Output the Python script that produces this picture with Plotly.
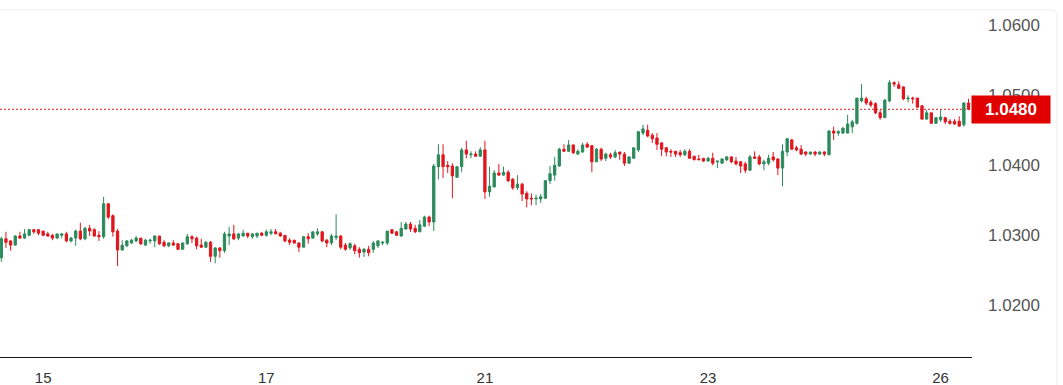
import plotly.graph_objects as go

# ---- data (hourly candles) ----
opens = [
    1.0268,1.0295,1.0292,1.0286,1.0299,1.0296,1.0300,1.0308,1.0308,1.0306,
    1.0302,1.0300,1.0296,1.0300,1.0302,1.0292,1.0296,1.0306,1.0295,1.0310,
    1.0308,1.0300,1.0298,1.0345,1.0328,1.0306,1.0279,1.0285,1.0289,1.0292,
    1.0296,1.0286,1.0292,1.0292,1.0299,1.0290,1.0285,1.0289,1.0288,1.0280,
    1.0288,1.0298,1.0296,1.0286,1.0283,1.0290,1.0270,1.0282,1.0278,1.0299,
    1.0302,1.0296,1.0299,1.0303,1.0298,1.0299,1.0303,1.0300,1.0303,1.0305,
    1.0303,1.0300,1.0293,1.0293,1.0289,1.0283,1.0298,1.0296,1.0302,1.0305,
    1.0293,1.0289,1.0297,1.0299,1.0286,1.0282,1.0285,1.0280,1.0276,1.0280,
    1.0280,1.0285,1.0289,1.0289,1.0308,1.0305,1.0299,1.0309,1.0316,1.0310,
    1.0305,1.0313,1.0326,1.0319,1.0398,1.0415,1.0400,1.0399,1.0383,1.0398,
    1.0422,1.0415,1.0416,1.0413,1.0422,1.0362,1.0369,1.0389,1.0386,1.0390,
    1.0380,1.0368,1.0373,1.0360,1.0353,1.0352,1.0352,1.0353,1.0378,1.0386,
    1.0399,1.0423,1.0420,1.0429,1.0416,1.0419,1.0430,1.0428,1.0405,1.0423,
    1.0410,1.0415,1.0412,1.0419,1.0416,1.0403,1.0410,1.0422,1.0446,1.0450,
    1.0443,1.0439,1.0432,1.0425,1.0420,1.0420,1.0418,1.0415,1.0420,1.0413,
    1.0409,1.0410,1.0406,1.0410,1.0405,1.0403,1.0408,1.0412,1.0406,1.0405,
    1.0402,1.0393,1.0412,1.0412,1.0402,1.0403,1.0412,1.0409,1.0396,1.0419,
    1.0436,1.0425,1.0423,1.0419,1.0416,1.0419,1.0416,1.0419,1.0415,1.0449,
    1.0446,1.0446,1.0446,1.0455,1.0460,1.0492,1.0495,1.0490,1.0488,1.0475,
    1.0468,1.0492,1.0518,1.0515,1.0512,1.0495,1.0496,1.0496,1.0485,1.0466,
    1.0475,1.0460,1.0465,1.0468,1.0463,1.0463,1.0463,1.0458,1.0489,
]
highs = [
    1.0298,1.0305,1.0293,1.0300,1.0305,1.0309,1.0309,1.0309,1.0309,1.0306,
    1.0305,1.0302,1.0302,1.0303,1.0305,1.0298,1.0308,1.0318,1.0312,1.0315,
    1.0310,1.0306,1.0355,1.0346,1.0330,1.0309,1.0293,1.0293,1.0295,1.0299,
    1.0296,1.0295,1.0295,1.0300,1.0299,1.0293,1.0290,1.0293,1.0289,1.0290,
    1.0302,1.0300,1.0298,1.0295,1.0292,1.0292,1.0283,1.0283,1.0305,1.0312,
    1.0315,1.0303,1.0308,1.0303,1.0303,1.0303,1.0305,1.0308,1.0309,1.0309,
    1.0305,1.0300,1.0296,1.0293,1.0290,1.0299,1.0303,1.0305,1.0310,1.0306,
    1.0295,1.0302,1.0330,1.0300,1.0289,1.0290,1.0288,1.0283,1.0282,1.0285,
    1.0292,1.0293,1.0292,1.0306,1.0309,1.0306,1.0319,1.0319,1.0319,1.0315,
    1.0322,1.0328,1.0328,1.0402,1.0430,1.0430,1.0406,1.0403,1.0398,1.0425,
    1.0435,1.0420,1.0420,1.0426,1.0435,1.0398,1.0393,1.0402,1.0398,1.0393,
    1.0382,1.0386,1.0375,1.0363,1.0360,1.0358,1.0359,1.0379,1.0399,1.0412,
    1.0425,1.0430,1.0436,1.0430,1.0423,1.0432,1.0433,1.0429,1.0425,1.0425,
    1.0418,1.0418,1.0422,1.0419,1.0419,1.0413,1.0425,1.0448,1.0458,1.0458,
    1.0446,1.0446,1.0433,1.0426,1.0423,1.0420,1.0422,1.0423,1.0423,1.0413,
    1.0415,1.0410,1.0412,1.0418,1.0406,1.0410,1.0413,1.0413,1.0412,1.0406,
    1.0405,1.0415,1.0420,1.0415,1.0408,1.0415,1.0419,1.0410,1.0430,1.0439,
    1.0438,1.0428,1.0429,1.0420,1.0419,1.0420,1.0420,1.0420,1.0450,1.0455,
    1.0450,1.0455,1.0472,1.0465,1.0496,1.0516,1.0498,1.0493,1.0490,1.0479,
    1.0495,1.0522,1.0520,1.0520,1.0513,1.0500,1.0498,1.0496,1.0486,1.0479,
    1.0475,1.0468,1.0479,1.0469,1.0466,1.0466,1.0470,1.0490,1.0495,
]
lows = [
    1.0262,1.0282,1.0278,1.0285,1.0295,1.0295,1.0299,1.0302,1.0300,1.0299,
    1.0298,1.0293,1.0295,1.0296,1.0290,1.0290,1.0285,1.0293,1.0293,1.0299,
    1.0298,1.0292,1.0295,1.0323,1.0298,1.0256,1.0278,1.0283,1.0288,1.0290,
    1.0286,1.0285,1.0288,1.0283,1.0286,1.0283,1.0283,1.0285,1.0279,1.0280,
    1.0286,1.0289,1.0280,1.0282,1.0282,1.0262,1.0260,1.0268,1.0275,1.0286,
    1.0293,1.0293,1.0298,1.0296,1.0295,1.0296,1.0299,1.0298,1.0300,1.0302,
    1.0298,1.0290,1.0286,1.0288,1.0276,1.0283,1.0288,1.0295,1.0299,1.0290,
    1.0283,1.0286,1.0293,1.0280,1.0278,1.0279,1.0273,1.0268,1.0269,1.0270,
    1.0275,1.0282,1.0286,1.0286,1.0302,1.0299,1.0298,1.0308,1.0305,1.0303,
    1.0305,1.0312,1.0313,1.0306,1.0380,1.0382,1.0389,1.0353,1.0382,1.0390,
    1.0410,1.0410,1.0412,1.0412,1.0352,1.0355,1.0369,1.0385,1.0385,1.0376,
    1.0365,1.0365,1.0349,1.0340,1.0343,1.0343,1.0346,1.0352,1.0373,1.0378,
    1.0398,1.0420,1.0419,1.0416,1.0415,1.0418,1.0425,1.0390,1.0405,1.0406,
    1.0406,1.0409,1.0410,1.0408,1.0399,1.0402,1.0410,1.0419,1.0443,1.0440,
    1.0432,1.0422,1.0413,1.0413,1.0412,1.0412,1.0412,1.0413,1.0410,1.0407,
    1.0408,1.0405,1.0406,1.0400,1.0396,1.0402,1.0406,1.0403,1.0400,1.0389,
    1.0389,1.0392,1.0409,1.0400,1.0393,1.0400,1.0405,1.0386,1.0370,1.0413,
    1.0422,1.0420,1.0415,1.0413,1.0415,1.0413,1.0415,1.0413,1.0415,1.0436,
    1.0442,1.0445,1.0446,1.0446,1.0458,1.0490,1.0486,1.0483,1.0473,1.0465,
    1.0468,1.0490,1.0512,1.0509,1.0493,1.0490,1.0488,1.0483,1.0465,1.0465,
    1.0460,1.0459,1.0462,1.0459,1.0458,1.0458,1.0455,1.0455,1.0479,
]
closes = [
    1.0295,1.0290,1.0286,1.0299,1.0296,1.0302,1.0308,1.0305,1.0303,1.0300,
    1.0299,1.0296,1.0302,1.0302,1.0292,1.0296,1.0306,1.0295,1.0310,1.0306,
    1.0299,1.0298,1.0345,1.0326,1.0305,1.0279,1.0286,1.0292,1.0293,1.0296,
    1.0288,1.0293,1.0293,1.0299,1.0288,1.0285,1.0289,1.0286,1.0280,1.0289,
    1.0298,1.0295,1.0285,1.0283,1.0290,1.0270,1.0282,1.0278,1.0302,1.0302,
    1.0295,1.0302,1.0303,1.0299,1.0302,1.0303,1.0300,1.0305,1.0305,1.0302,
    1.0299,1.0292,1.0290,1.0289,1.0283,1.0298,1.0295,1.0305,1.0305,1.0292,
    1.0289,1.0299,1.0299,1.0283,1.0280,1.0288,1.0278,1.0275,1.0280,1.0275,
    1.0289,1.0292,1.0290,1.0306,1.0303,1.0300,1.0310,1.0316,1.0309,1.0305,
    1.0315,1.0326,1.0319,1.0399,1.0415,1.0398,1.0398,1.0385,1.0398,1.0422,
    1.0416,1.0416,1.0413,1.0422,1.0362,1.0370,1.0389,1.0386,1.0390,1.0378,
    1.0368,1.0373,1.0359,1.0352,1.0352,1.0353,1.0355,1.0378,1.0388,1.0400,
    1.0423,1.0420,1.0429,1.0418,1.0420,1.0429,1.0426,1.0405,1.0423,1.0409,
    1.0416,1.0412,1.0418,1.0416,1.0403,1.0412,1.0425,1.0448,1.0452,1.0442,
    1.0438,1.0430,1.0423,1.0419,1.0419,1.0416,1.0415,1.0420,1.0410,1.0408,
    1.0408,1.0406,1.0410,1.0403,1.0406,1.0409,1.0412,1.0405,1.0402,1.0399,
    1.0393,1.0412,1.0410,1.0402,1.0405,1.0410,1.0408,1.0396,1.0420,1.0438,
    1.0423,1.0422,1.0416,1.0416,1.0419,1.0416,1.0419,1.0416,1.0449,1.0446,
    1.0448,1.0453,1.0459,1.0462,1.0496,1.0496,1.0489,1.0486,1.0475,1.0468,
    1.0493,1.0518,1.0516,1.0510,1.0495,1.0496,1.0495,1.0483,1.0466,1.0475,
    1.0460,1.0468,1.0469,1.0462,1.0460,1.0459,1.0456,1.0489,1.0480,
]

day_labels = ["15", "17", "21", "23", "26"]
day_label_candle = [9, 57, 104, 152, 202]
price_ticks = [1.02, 1.03, 1.04, 1.05, 1.06]
last_price = 1.0480

GREEN = "#2b8a5c"
RED = "#e0161c"
LABEL_RED = "#e00000"

n = min(len(opens), len(highs), len(lows), len(closes))
idx = list(range(n))

fig = go.Figure(
    go.Candlestick(
        x=idx, open=opens[:n], high=highs[:n], low=lows[:n], close=closes[:n],
        increasing=dict(line=dict(color=GREEN, width=1), fillcolor=GREEN),
        decreasing=dict(line=dict(color=RED, width=1), fillcolor=RED),
        whiskerwidth=0,
        showlegend=False,
        hoverinfo="skip",
    )
)

fig.update_layout(
    width=1063, height=385,
    margin=dict(l=0, r=91, t=10, b=28, autoexpand=False),
    paper_bgcolor="white", plot_bgcolor="white",
    font=dict(family="Liberation Sans, Arial, sans-serif"),
    xaxis=dict(
        range=[-0.28, 208.75],
        tickmode="array", tickvals=day_label_candle, ticktext=day_labels,
        showgrid=False, zeroline=False,
        showline=True, linecolor="#1a1a1a", linewidth=1,
        ticks="", ticklabelstandoff=7,
        tickfont=dict(size=15, color="#333333"),
        rangeslider=dict(visible=False),
        fixedrange=True,
    ),
    yaxis=dict(
        side="right",
        range=[1.012614, 1.062186],
        tickmode="array", tickvals=price_ticks, tickformat=".4f",
        showgrid=False, zeroline=False, showline=False,
        ticks="", ticklabelstandoff=15,
        tickfont=dict(size=17, color="#555555"),
        fixedrange=True,
    ),
    shapes=[
        dict(type="line", xref="paper", x0=0, x1=1, yref="y", y0=last_price, y1=last_price,
             line=dict(color="#d81b1b", width=1, dash="2px,2px"), layer="below"),
        dict(type="path", xref="paper", yref="paper",
             path="M 0,1 L 1.0815,1 Q 1.0875,1 1.0875,0.983 L 1.0875,-0.09",
             line=dict(color="#ececec", width=1)),
    ],
    annotations=[
        dict(xref="paper", x=1, xanchor="left", xshift=-1,
             yref="y", y=last_price, yanchor="middle",
             text="<b>1.0480</b>", showarrow=False,
             font=dict(size=17, color="white"),
             bgcolor=LABEL_RED, width=72, height=21, borderpad=3, align="center"),
    ],
)

fig.write_html(
    "out.html",
    config={"displayModeBar": False},
    post_script="document.body.style.margin='0';document.body.style.overflow='hidden';",
)
